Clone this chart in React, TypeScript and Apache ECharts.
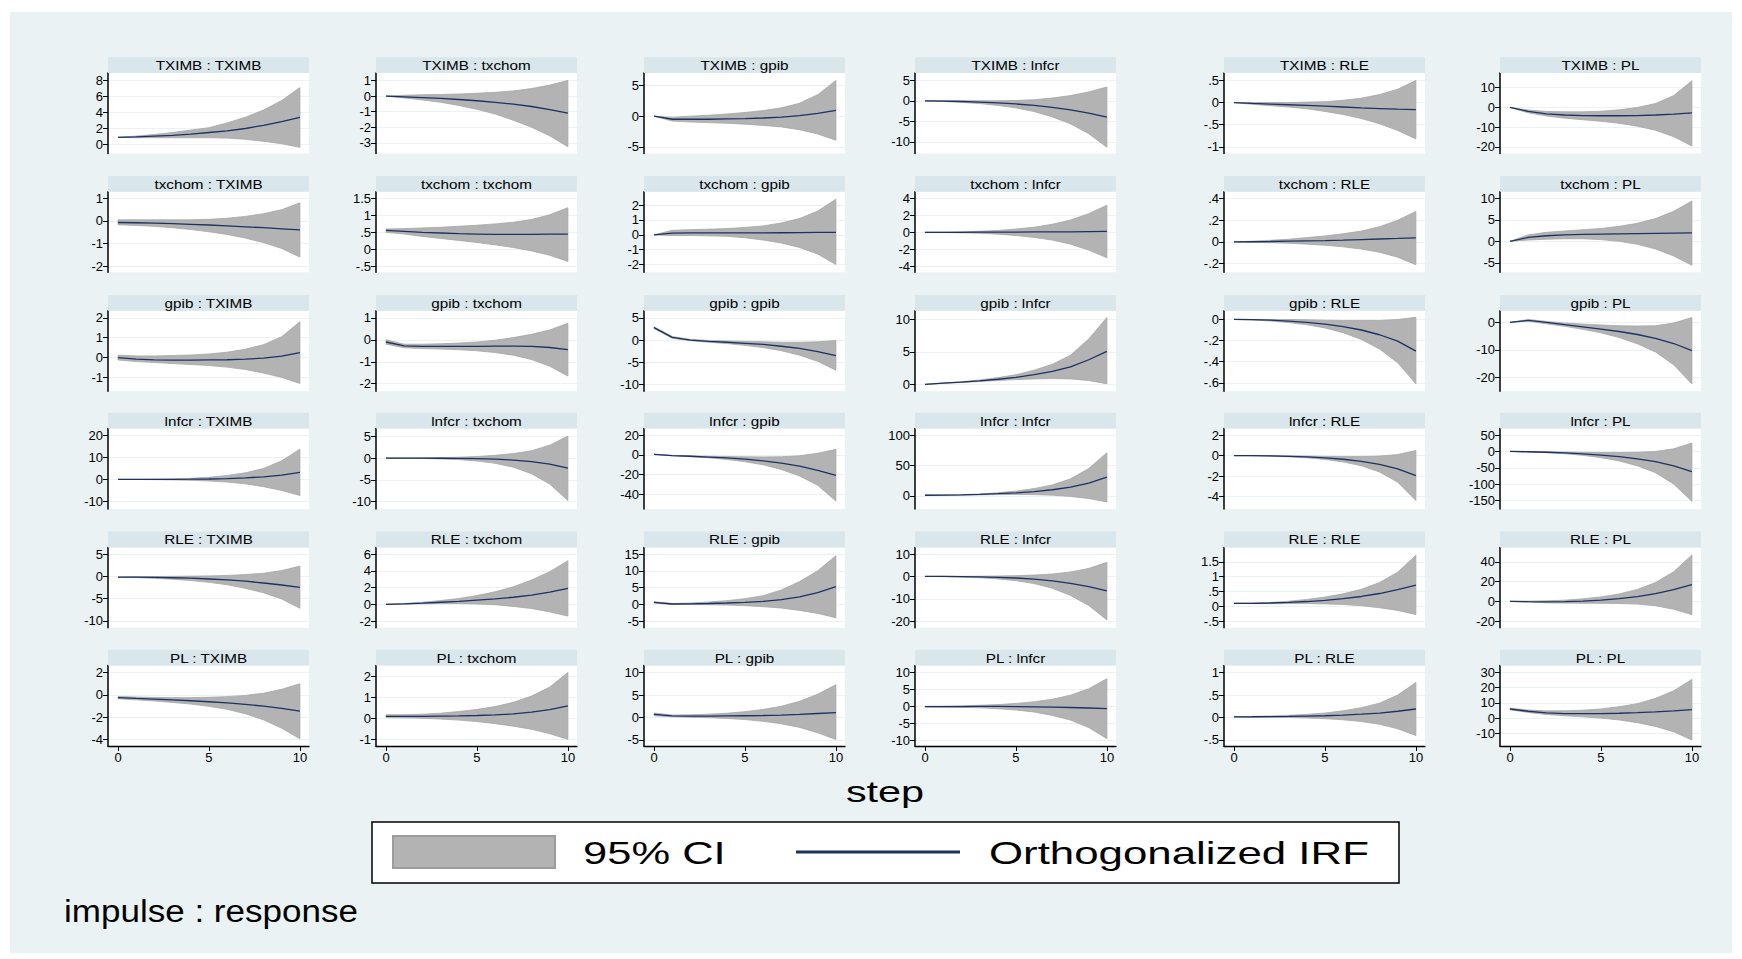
import React, { useEffect, useRef } from "react";
import * as echarts from "echarts";

// ---------------- data ----------------
const steps = [0, 1, 2, 3, 4, 5, 6, 7, 8, 9, 10];
const impulses = ["TXIMB", "txchom", "gpib", "lnfcr", "RLE", "PL"];
const responses = ["TXIMB", "txchom", "gpib", "lnfcr", "RLE", "PL"];
const xTicks = [0, 5, 10];

// impulse TXIMB
const TXIMB_TXIMB = {
  irf: [0.9, 0.95, 1.05, 1.15, 1.3, 1.5, 1.7, 2.0, 2.4, 2.85, 3.4],
  hi: [0.9, 1.05, 1.25, 1.5, 1.8, 2.1, 2.7, 3.4, 4.3, 5.5, 7.1],
  lo: [0.9, 0.85, 0.85, 0.85, 0.85, 0.85, 0.8, 0.65, 0.4, 0.1, -0.35],
};
const TXIMB_txchom = {
  irf: [0, -0.05, -0.1, -0.15, -0.22, -0.3, -0.4, -0.52, -0.67, -0.87, -1.1],
  hi: [0, 0.05, 0.08, 0.1, 0.13, 0.18, 0.24, 0.33, 0.48, 0.7, 1.0],
  lo: [0, -0.12, -0.25, -0.4, -0.6, -0.85, -1.15, -1.55, -2.0, -2.55, -3.25],
};
const TXIMB_gpib = {
  irf: [0, -0.5, -0.5, -0.5, -0.45, -0.4, -0.3, -0.15, 0.1, 0.45, 0.95],
  hi: [0, -0.2, 0, 0.15, 0.35, 0.6, 0.9, 1.35, 2.1, 3.5, 5.8],
  lo: [0, -0.8, -0.95, -1.05, -1.15, -1.3, -1.5, -1.75, -2.2, -2.9, -3.9],
};
const TXIMB_lnfcr = {
  irf: [0, -0.05, -0.15, -0.3, -0.5, -0.75, -1.1, -1.6, -2.2, -3.0, -3.95],
  hi: [0, 0.05, 0.05, 0.05, 0.05, 0.1, 0.3, 0.7, 1.3, 2.2, 3.4],
  lo: [0, -0.15, -0.35, -0.65, -1.1, -1.7, -2.6, -3.9, -5.6, -8.0, -11.3],
};
const TXIMB_RLE = {
  irf: [0, -0.02, -0.035, -0.05, -0.065, -0.08, -0.1, -0.12, -0.135, -0.15, -0.16],
  hi: [0, 0, 0, 0, 0.01, 0.02, 0.05, 0.1, 0.18, 0.3, 0.5],
  lo: [0, -0.04, -0.07, -0.1, -0.14, -0.2, -0.27, -0.36, -0.48, -0.63, -0.82],
};
const TXIMB_PL = {
  irf: [0, -2, -3.2, -3.8, -4.1, -4.2, -4.2, -4.1, -3.8, -3.4, -2.7],
  hi: [0, -1.3, -2.0, -2.2, -2.2, -1.9, -1.2, 0, 2.0, 6, 13.5],
  lo: [0, -2.7, -4.3, -5.4, -6.2, -7.0, -8.0, -9.5, -11.5, -14.8, -19.5],
};
// impulse txchom
const txchom_TXIMB = {
  irf: [-0.07, -0.08, -0.1, -0.12, -0.15, -0.18, -0.22, -0.26, -0.3, -0.35, -0.4],
  hi: [0.05, 0.05, 0.05, 0.05, 0.05, 0.07, 0.12, 0.2, 0.32, 0.5, 0.8],
  lo: [-0.17, -0.2, -0.24, -0.3, -0.38, -0.48, -0.6, -0.76, -0.96, -1.22, -1.6],
};
const txchom_txchom = {
  irf: [0.56, 0.53, 0.5, 0.48, 0.46, 0.45, 0.44, 0.44, 0.44, 0.45, 0.45],
  hi: [0.6, 0.61, 0.63, 0.65, 0.68, 0.71, 0.75, 0.8, 0.88, 1.02, 1.23],
  lo: [0.5, 0.45, 0.38, 0.32, 0.26, 0.2, 0.13, 0.05, -0.05, -0.18, -0.36],
};
const txchom_gpib = {
  irf: [0, 0.12, 0.13, 0.13, 0.13, 0.13, 0.13, 0.14, 0.15, 0.16, 0.17],
  hi: [0, 0.3, 0.35, 0.38, 0.42, 0.5, 0.6, 0.8, 1.1, 1.6, 2.4],
  lo: [0, -0.05, -0.05, -0.07, -0.1, -0.2, -0.35, -0.55, -0.85, -1.3, -2.0],
};
const txchom_lnfcr = {
  irf: [0, 0, 0, 0.01, 0.02, 0.03, 0.04, 0.05, 0.06, 0.08, 0.1],
  hi: [0, 0.02, 0.06, 0.12, 0.22, 0.38, 0.6, 0.95, 1.45, 2.2, 3.2],
  lo: [0, -0.02, -0.06, -0.12, -0.22, -0.38, -0.6, -0.92, -1.4, -2.1, -3.0],
};
const txchom_RLE = {
  irf: [0, 0.002, 0.004, 0.007, 0.01, 0.013, 0.017, 0.022, 0.027, 0.032, 0.038],
  hi: [0, 0.007, 0.015, 0.025, 0.04, 0.055, 0.075, 0.1, 0.14, 0.2, 0.28],
  lo: [0, -0.003, -0.007, -0.012, -0.02, -0.03, -0.045, -0.065, -0.095, -0.14, -0.21],
};
const txchom_PL = {
  irf: [0, 0.9, 1.3, 1.5, 1.6, 1.7, 1.75, 1.8, 1.85, 1.9, 1.95],
  hi: [0, 1.5, 2.1, 2.4, 2.7, 3.0, 3.5, 4.2, 5.3, 7.0, 9.4],
  lo: [0, 0.3, 0.5, 0.6, 0.6, 0.4, 0, -0.7, -1.8, -3.4, -5.6],
};
// impulse gpib
const gpib_TXIMB = {
  irf: [0, -0.08, -0.12, -0.13, -0.13, -0.12, -0.11, -0.08, -0.03, 0.07, 0.25],
  hi: [0.12, 0.08, 0.08, 0.1, 0.13, 0.18, 0.27, 0.42, 0.65, 1.05, 1.8],
  lo: [-0.12, -0.2, -0.25, -0.3, -0.35, -0.4, -0.48, -0.6, -0.78, -1.0, -1.3],
};
const gpib_txchom = {
  irf: [-0.1, -0.28, -0.3, -0.3, -0.3, -0.3, -0.29, -0.29, -0.3, -0.35, -0.45],
  hi: [0, -0.2, -0.2, -0.18, -0.15, -0.1, -0.02, 0.1, 0.25, 0.45, 0.75],
  lo: [-0.2, -0.36, -0.4, -0.42, -0.45, -0.5, -0.58, -0.7, -0.9, -1.2, -1.65],
};
const gpib_gpib = {
  irf: [2.8, 0.6, 0, -0.3, -0.5, -0.75, -1.0, -1.4, -1.9, -2.6, -3.5],
  hi: [3.0, 0.8, 0.15, -0.1, -0.2, -0.3, -0.4, -0.5, -0.5, -0.4, -0.1],
  lo: [2.6, 0.4, -0.15, -0.5, -0.8, -1.2, -1.7, -2.4, -3.4, -4.8, -6.8],
};
const gpib_lnfcr = {
  irf: [0, 0.2, 0.35, 0.55, 0.8, 1.1, 1.5, 2.0, 2.7, 3.8, 5.1],
  hi: [0, 0.22, 0.42, 0.68, 1.05, 1.5, 2.2, 3.1, 4.5, 7.0, 10.3],
  lo: [0, 0.18, 0.3, 0.45, 0.6, 0.75, 0.85, 0.9, 0.85, 0.6, 0.1],
};
const gpib_RLE = {
  irf: [0, -0.002, -0.007, -0.015, -0.027, -0.045, -0.068, -0.1, -0.145, -0.205, -0.3],
  hi: [0, 0, 0, 0, -0.003, -0.007, -0.01, -0.01, -0.01, 0, 0.02],
  lo: [0, -0.005, -0.015, -0.03, -0.05, -0.08, -0.125, -0.19, -0.28, -0.41, -0.61],
};
const gpib_PL = {
  irf: [0, 0.8, 0, -0.8, -1.6, -2.4, -3.3, -4.4, -5.8, -7.7, -10.3],
  hi: [0, 1.1, 0.4, -0.2, -0.6, -0.9, -1.2, -1.3, -1.2, -0.2, 1.8],
  lo: [0, 0.5, -0.5, -1.4, -2.5, -3.8, -5.5, -7.8, -10.8, -15.5, -22.5],
};
// impulse lnfcr
const lnfcr_TXIMB = {
  irf: [0, 0, 0, 0.05, 0.1, 0.2, 0.4, 0.7, 1.2, 2.0, 3.2],
  hi: [0, 0.02, 0.1, 0.25, 0.5, 1.0, 1.8, 3.0, 5.0, 8.5, 13.8],
  lo: [0, -0.02, -0.1, -0.2, -0.4, -0.7, -1.2, -2.0, -3.3, -5.0, -7.3],
};
const lnfcr_txchom = {
  irf: [0, 0, 0, -0.02, -0.05, -0.12, -0.25, -0.45, -0.8, -1.4, -2.3],
  hi: [0, 0.02, 0.06, 0.12, 0.22, 0.38, 0.65, 1.05, 1.7, 3.0, 5.1],
  lo: [0, -0.02, -0.08, -0.18, -0.35, -0.65, -1.2, -2.1, -3.6, -6.0, -9.8],
};
const lnfcr_gpib = {
  irf: [0.5, -0.8, -1.5, -2.3, -3.2, -4.5, -6.2, -8.5, -11.6, -15.8, -21],
  hi: [0.5, -0.6, -1.1, -1.5, -1.8, -2.1, -2.2, -2.0, -1.0, 1.5, 5.5],
  lo: [0.5, -1.0, -1.9, -3.1, -4.7, -7.0, -10.2, -15, -21.5, -31, -47],
};
const lnfcr_lnfcr = {
  irf: [1, 1.2, 1.6, 2.3, 3.5, 5.0, 7.0, 10, 14.5, 21, 31],
  hi: [1, 1.3, 1.9, 3.0, 5.0, 7.8, 12, 18, 28, 45, 71],
  lo: [1, 1.1, 1.3, 1.6, 2.0, 2.3, 2.0, 1.0, -1.0, -4.5, -10],
};
const lnfcr_RLE = {
  irf: [0, -0.01, -0.03, -0.07, -0.13, -0.22, -0.36, -0.56, -0.86, -1.3, -1.97],
  hi: [0, 0, 0, -0.02, -0.05, -0.08, -0.1, -0.1, -0.05, 0.1, 0.5],
  lo: [0, -0.02, -0.06, -0.12, -0.22, -0.38, -0.62, -1.0, -1.6, -2.6, -4.4],
};
const lnfcr_PL = {
  irf: [0, -1, -2.5, -4.5, -7.5, -11, -16, -22.5, -31, -44, -62],
  hi: [0, -0.5, -1.2, -2.0, -2.8, -3.5, -3.5, -2.5, 0, 8, 26],
  lo: [0, -1.5, -3.8, -7, -12, -19, -29, -44, -65, -100, -153],
};
// impulse RLE
const RLE_TXIMB = {
  irf: [-0.2, -0.2, -0.25, -0.32, -0.42, -0.6, -0.8, -1.1, -1.5, -1.95, -2.5],
  hi: [-0.15, -0.1, -0.05, 0, 0.05, 0.1, 0.2, 0.4, 0.7, 1.3, 2.3],
  lo: [-0.25, -0.3, -0.45, -0.65, -0.95, -1.35, -1.9, -2.7, -3.7, -5.1, -7.2],
};
const RLE_txchom = {
  irf: [0, 0.06, 0.15, 0.25, 0.35, 0.5, 0.65, 0.85, 1.1, 1.45, 1.9],
  hi: [0, 0.1, 0.25, 0.45, 0.7, 1.05, 1.5, 2.1, 2.9, 3.9, 5.2],
  lo: [0, 0.03, 0.07, 0.1, 0.1, 0.05, -0.05, -0.25, -0.5, -0.9, -1.4],
};
const RLE_gpib = {
  irf: [0.6, 0.1, 0.15, 0.25, 0.4, 0.6, 0.9, 1.4, 2.2, 3.5, 5.3],
  hi: [0.8, 0.25, 0.4, 0.7, 1.1, 1.7, 2.6, 4.3, 6.8, 10, 14.5],
  lo: [0.4, -0.05, -0.05, -0.1, -0.2, -0.4, -0.7, -1.1, -1.8, -2.7, -4.0],
};
const RLE_lnfcr = {
  irf: [0, 0, -0.1, -0.2, -0.4, -0.7, -1.2, -2.0, -3.1, -4.6, -6.5],
  hi: [0, 0.05, 0.05, 0.1, 0.2, 0.35, 0.6, 1.1, 2.0, 3.6, 6.3],
  lo: [0, -0.1, -0.3, -0.6, -1.1, -1.9, -3.2, -5.3, -8.5, -13, -19.5],
};
const RLE_RLE = {
  irf: [0.1, 0.1, 0.11, 0.13, 0.16, 0.2, 0.26, 0.33, 0.43, 0.56, 0.71],
  hi: [0.1, 0.11, 0.13, 0.17, 0.23, 0.31, 0.42, 0.57, 0.8, 1.15, 1.72],
  lo: [0.1, 0.09, 0.09, 0.09, 0.09, 0.08, 0.06, 0.02, -0.05, -0.14, -0.28],
};
const RLE_PL = {
  irf: [0, -0.3, -0.5, -0.3, 0.3, 1.3, 2.8, 4.8, 7.8, 11.8, 17],
  hi: [0, 0.2, 0.5, 1.2, 2.5, 4.5, 7.5, 12, 19, 30, 47],
  lo: [0, -0.8, -1.5, -1.8, -2.0, -2.0, -2.2, -2.8, -4.5, -8, -13.5],
};
// impulse PL
const PL_TXIMB = {
  irf: [-0.25, -0.32, -0.38, -0.45, -0.53, -0.62, -0.73, -0.86, -1.02, -1.22, -1.47],
  hi: [-0.15, -0.2, -0.23, -0.25, -0.25, -0.22, -0.16, -0.05, 0.15, 0.5, 1.0],
  lo: [-0.35, -0.45, -0.55, -0.68, -0.83, -1.03, -1.3, -1.7, -2.25, -3.0, -3.95],
};
const PL_txchom = {
  irf: [0.1, 0.1, 0.1, 0.11, 0.12, 0.14, 0.17, 0.22, 0.3, 0.42, 0.6],
  hi: [0.18, 0.18, 0.2, 0.25, 0.33, 0.43, 0.57, 0.77, 1.07, 1.5, 2.2],
  lo: [0.05, 0.03, 0.01, -0.03, -0.08, -0.15, -0.25, -0.37, -0.52, -0.73, -1.0],
};
const PL_gpib = {
  irf: [0.7, 0.35, 0.3, 0.3, 0.35, 0.4, 0.45, 0.55, 0.7, 0.9, 1.1],
  hi: [1.0, 0.55, 0.6, 0.75, 0.95, 1.3, 1.8, 2.5, 3.6, 5.2, 7.3],
  lo: [0.4, 0.15, 0.05, -0.05, -0.2, -0.45, -0.85, -1.4, -2.2, -3.4, -4.9],
};
const PL_lnfcr = {
  irf: [-0.1, -0.1, -0.08, -0.05, -0.05, -0.1, -0.15, -0.25, -0.35, -0.5, -0.7],
  hi: [0, 0.05, 0.15, 0.3, 0.5, 0.85, 1.35, 2.1, 3.3, 5.2, 8.2],
  lo: [-0.2, -0.25, -0.3, -0.45, -0.7, -1.1, -1.7, -2.7, -4.1, -6.3, -9.6],
};
const PL_RLE = {
  irf: [0.015, 0.017, 0.02, 0.025, 0.032, 0.04, 0.055, 0.075, 0.1, 0.14, 0.19],
  hi: [0.02, 0.025, 0.035, 0.05, 0.07, 0.1, 0.15, 0.22, 0.32, 0.5, 0.78],
  lo: [0.01, 0.008, 0.005, 0, -0.01, -0.025, -0.05, -0.09, -0.15, -0.25, -0.4],
};
const PL_PL = {
  irf: [6, 4.5, 3.5, 3.0, 2.9, 3.0, 3.2, 3.6, 4.1, 4.8, 5.6],
  hi: [6.5, 5.3, 4.8, 4.8, 5.2, 6.0, 7.5, 9.5, 13, 18, 25.5],
  lo: [5.5, 3.7, 2.4, 1.5, 0.8, 0, -1.2, -3.0, -5.5, -9, -14.5],
};

const panelData = [
  [TXIMB_TXIMB, TXIMB_txchom, TXIMB_gpib, TXIMB_lnfcr, TXIMB_RLE, TXIMB_PL],
  [txchom_TXIMB, txchom_txchom, txchom_gpib, txchom_lnfcr, txchom_RLE, txchom_PL],
  [gpib_TXIMB, gpib_txchom, gpib_gpib, gpib_lnfcr, gpib_RLE, gpib_PL],
  [lnfcr_TXIMB, lnfcr_txchom, lnfcr_gpib, lnfcr_lnfcr, lnfcr_RLE, lnfcr_PL],
  [RLE_TXIMB, RLE_txchom, RLE_gpib, RLE_lnfcr, RLE_RLE, RLE_PL],
  [PL_TXIMB, PL_txchom, PL_gpib, PL_lnfcr, PL_RLE, PL_PL],
];

// y-axis tick labels per panel (rows = impulse, columns = response)
const yTicks = [
  [[0, 2, 4, 6, 8], [-3, -2, -1, 0, 1], [-5, 0, 5], [-10, -5, 0, 5], [-1, -0.5, 0, 0.5], [-20, -10, 0, 10]],
  [[-2, -1, 0, 1], [-0.5, 0, 0.5, 1, 1.5], [-2, -1, 0, 1, 2], [-4, -2, 0, 2, 4], [-0.2, 0, 0.2, 0.4], [-5, 0, 5, 10]],
  [[-1, 0, 1, 2], [-2, -1, 0, 1], [-10, -5, 0, 5], [0, 5, 10], [-0.6, -0.4, -0.2, 0], [-20, -10, 0]],
  [[-10, 0, 10, 20], [-10, -5, 0, 5], [-40, -20, 0, 20], [0, 50, 100], [-4, -2, 0, 2], [-150, -100, -50, 0, 50]],
  [[-10, -5, 0, 5], [-2, 0, 2, 4, 6], [-5, 0, 5, 10, 15], [-20, -10, 0, 10], [-0.5, 0, 0.5, 1, 1.5], [-20, 0, 20, 40]],
  [[-4, -2, 0, 2], [-1, 0, 1, 2], [-5, 0, 5, 10], [-10, -5, 0, 5, 10], [-0.5, 0, 0.5, 1], [-10, 0, 10, 20, 30]],
];
// y-axis ranges per panel
const yMin = [
  [-1.12, -3.68, -6.07, -12.83, -1.15, -23.3],
  [-2.27, -0.68, -2.52, -4.71, -0.278, -7.2],
  [-1.69, -2.34, -11.52, -1.04, -0.68, -25.15],
  [-13.46, -11.76, -55.1, -21.7, -5.23, -176.4],
  [-11.58, -2.8, -7, -23, -0.726, -26.8],
  [-4.6, -1.32, -6.34, -11.78, -0.634, -18.4],
];
const yMax = [
  [8.91, 1.47, 7.0, 6.78, 0.665, 17.4],
  [1.29, 1.7, 2.9, 4.78, 0.461, 11.55],
  [2.35, 1.32, 6.58, 11.33, 0.082, 4.27],
  [23.15, 6.83, 26.6, 110.8, 2.64, 70],
  [6.51, 6.8, 17, 13, 1.985, 54.6],
  [2.63, 2.53, 11.56, 12.08, 1.156, 34.6],
];

// ---------------- layout & style ----------------
const COL_X = [108, 376, 644, 915, 1224, 1500];
const ROW_Y = [57.3, 176, 295, 412.8, 531.6, 649.8];
const PW = 201;
const TH = 15.8;
const PH = 80.4;
const FONT = "'Liberation Sans', Arial, Helvetica, sans-serif";
const NAVY = "#1c3262";
const BAND = "#b3b3b3";
const BAND_EDGE = "#a6a6a6";
const BG = "#eaf2f3";
const STRIP = "#d9e6eb";

function stataFmt(v: number): string {
  const r = Math.round(v * 1000) / 1000;
  let s = String(r);
  s = s.replace(/^0\./, ".").replace(/^-0\./, "-.");
  return s;
}

export default function App() {
  const ref = useRef<HTMLDivElement>(null);

  useEffect(() => {
    if (!ref.current) return;
    const chart = echarts.init(ref.current, null, { renderer: "svg" });
    const grid: any[] = [];
    const xAxis: any[] = [];
    const yAxis: any[] = [];
    const series: any[] = [];
    const graphic: any[] = [];

    graphic.push({
      type: "rect",
      shape: { x: 10, y: 12, width: 1722, height: 941 },
      style: { fill: BG },
      z: -100,
      silent: true,
    });

    for (let r = 0; r < 6; r++) {
      for (let c = 0; c < 6; c++) {
        const i = r * 6 + c;
        const d = panelData[r][c];
        const left = COL_X[c];
        const top = ROW_Y[r] + TH;
        grid.push({
          left,
          top,
          width: PW,
          height: PH,
          show: true,
          backgroundColor: "#ffffff",
          borderWidth: 0,
        });
        const bottom = r === 5;
        xAxis.push({
          gridIndex: i,
          type: "value",
          min: -0.55,
          max: 10.5,
          show: bottom,
          axisLine: { show: true, onZero: false, lineStyle: { color: "#000", width: 1.3 } },
          axisTick: { show: true, customValues: xTicks, length: 5, lineStyle: { color: "#000", width: 1 } },
          axisLabel: { show: true, customValues: xTicks, fontSize: 13, color: "#000", margin: 5, fontFamily: FONT },
          splitLine: { show: false },
        });
        const ticks = yTicks[r][c];
        yAxis.push({
          gridIndex: i,
          type: "value",
          min: yMin[r][c],
          max: yMax[r][c],
          axisLine: { show: true, onZero: false, lineStyle: { color: "#000", width: 1.5 } },
          axisTick: { show: true, customValues: ticks, length: 5, lineStyle: { color: "#000", width: 1 } },
          axisLabel: {
            show: true,
            customValues: ticks,
            formatter: (v: number) => stataFmt(v),
            fontSize: 13,
            color: "#000",
            margin: 5,
            fontFamily: FONT,
          },
          splitLine: { show: true, lineStyle: { color: BG, width: 1 } },
        });
        // 95% CI band drawn as one polygon through the axis scales
        series.push({
          type: "custom",
          xAxisIndex: i,
          yAxisIndex: i,
          data: steps.map((s, k) => [s, d.lo[k], d.hi[k]]),
          encode: { x: 0, y: [1, 2] },
          silent: true,
          z: 2,
          renderItem: (params: any, api: any) => {
            if (params.dataIndex !== 0) return null;
            const pts: number[][] = [];
            for (let k = 0; k < steps.length; k++) pts.push(api.coord([steps[k], d.hi[k]]));
            for (let k = steps.length - 1; k >= 0; k--) pts.push(api.coord([steps[k], d.lo[k]]));
            return {
              type: "polygon",
              shape: { points: pts },
              style: { fill: BAND, stroke: BAND_EDGE, lineWidth: 0.8 },
            };
          },
        });
        series.push({
          type: "line",
          xAxisIndex: i,
          yAxisIndex: i,
          data: steps.map((s, k) => [s, d.irf[k]]),
          symbol: "none",
          silent: true,
          lineStyle: { color: NAVY, width: 1.3 },
          z: 3,
        });

        graphic.push({
          type: "rect",
          shape: { x: left, y: ROW_Y[r], width: PW, height: TH },
          style: { fill: STRIP },
          silent: true,
          z: 1,
        });
        graphic.push({
          type: "text",
          x: left + PW / 2,
          y: ROW_Y[r] + TH / 2 + 0.5,
          scaleX: 1.22,
          style: {
            text: impulses[r] + " : " + responses[c],
            fill: "#000",
            font: "12.5px " + FONT,
            textAlign: "center",
            textVerticalAlign: "middle",
          },
          silent: true,
          z: 2,
        });
      }
    }

    // x axis title
    graphic.push({
      type: "text",
      x: 885,
      y: 792,
      scaleX: 1.38,
      style: { text: "step", fill: "#000", font: "30px " + FONT, textAlign: "center", textVerticalAlign: "middle" },
      silent: true,
    });
    // legend
    graphic.push({
      type: "rect",
      shape: { x: 372, y: 822, width: 1027, height: 61 },
      style: { fill: "#ffffff", stroke: "#000", lineWidth: 1.5 },
      silent: true,
    });
    graphic.push({
      type: "rect",
      shape: { x: 393, y: 836, width: 162, height: 32 },
      style: { fill: BAND, stroke: "#9c9c9c", lineWidth: 2 },
      silent: true,
    });
    graphic.push({
      type: "text",
      x: 583,
      y: 853,
      scaleX: 1.36,
      style: { text: "95% CI", fill: "#000", font: "32px " + FONT, textAlign: "left", textVerticalAlign: "middle" },
      silent: true,
    });
    graphic.push({
      type: "line",
      shape: { x1: 796, y1: 852, x2: 960, y2: 852 },
      style: { stroke: NAVY, lineWidth: 3 },
      silent: true,
    });
    graphic.push({
      type: "text",
      x: 989,
      y: 853,
      scaleX: 1.37,
      style: {
        text: "Orthogonalized IRF",
        fill: "#000",
        font: "32px " + FONT,
        textAlign: "left",
        textVerticalAlign: "middle",
      },
      silent: true,
    });
    // note
    graphic.push({
      type: "text",
      x: 64,
      y: 911,
      scaleX: 1.13,
      style: {
        text: "impulse : response",
        fill: "#000",
        font: "31px " + FONT,
        textAlign: "left",
        textVerticalAlign: "middle",
      },
      silent: true,
    });

    chart.setOption({
      animation: false,
      backgroundColor: "#ffffff",
      grid,
      xAxis,
      yAxis,
      series,
      graphic,
    });
    return () => chart.dispose();
  }, []);

  return (
    <div
      ref={ref}
      style={{ position: "fixed", left: 0, top: 0, width: 1742, height: 959, background: "#fff" }}
    />
  );
}
